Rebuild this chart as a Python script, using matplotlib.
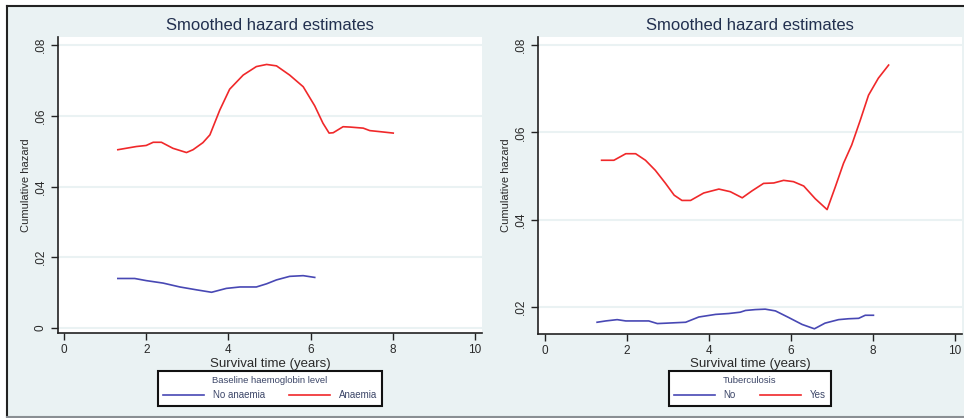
import matplotlib
matplotlib.use("Agg")
import matplotlib.pyplot as plt
from matplotlib.patches import Rectangle
from matplotlib.lines import Line2D
from matplotlib.ticker import FuncFormatter

plt.rcParams['font.family'] = ['Liberation Sans', 'DejaVu Sans']

# Left panel: baseline haemoglobin level
hb_none_x = [1.31, 1.72, 2.0, 2.41, 2.82, 3.22, 3.59, 3.95, 4.28, 4.68, 4.93, 5.17, 5.49, 5.82, 6.10]
hb_none_y = [0.0140, 0.0140, 0.0134, 0.0127, 0.0116, 0.0108, 0.0101, 0.0112, 0.0116, 0.0116,
             0.0125, 0.0136, 0.0146, 0.0148, 0.0143]
hb_anaemia_x = [1.31, 1.76, 2.0, 2.17, 2.37, 2.65, 2.98, 3.14, 3.38, 3.55, 3.79, 4.03, 4.36, 4.68,
                4.93, 5.17, 5.49, 5.82, 6.10, 6.30, 6.45, 6.55, 6.79, 6.96, 7.28, 7.44, 7.69, 8.01]
hb_anaemia_y = [0.0504, 0.0513, 0.0516, 0.0525, 0.0525, 0.0508, 0.0496, 0.0504, 0.0524, 0.0546,
                0.0616, 0.0675, 0.0715, 0.0739, 0.0745, 0.0741, 0.0715, 0.0682, 0.0628, 0.0579,
                0.0551, 0.0552, 0.0569, 0.0568, 0.0565, 0.0558, 0.0555, 0.0551]

# Right panel: tuberculosis
tb_no_x = [1.27, 1.48, 1.76, 1.97, 2.53, 2.74, 2.98, 3.43, 3.75, 4.16, 4.48, 4.76, 4.89, 5.13,
           5.37, 5.62, 5.94, 6.27, 6.57, 6.83, 7.16, 7.40, 7.65, 7.81, 8.01]
tb_no_y = [0.0165, 0.0168, 0.0171, 0.0168, 0.0168, 0.0162, 0.0163, 0.0165, 0.0177, 0.0183,
           0.0185, 0.0188, 0.0192, 0.0194, 0.0195, 0.0191, 0.0176, 0.0160, 0.0150, 0.0163,
           0.0171, 0.0173, 0.0174, 0.0181, 0.0181]
tb_yes_x = [1.38, 1.68, 1.97, 2.21, 2.45, 2.69, 2.94, 3.15, 3.34, 3.55, 3.87, 4.24, 4.52, 4.81,
            5.05, 5.33, 5.58, 5.82, 6.06, 6.31, 6.59, 6.88, 7.08, 7.28, 7.48, 7.69, 7.89, 8.13, 8.38]
tb_yes_y = [0.0536, 0.0536, 0.0551, 0.0551, 0.0536, 0.0513, 0.0483, 0.0456, 0.0444, 0.0444,
            0.0461, 0.0470, 0.0464, 0.0450, 0.0466, 0.0483, 0.0484, 0.0490, 0.0487, 0.0477,
            0.0448, 0.0423, 0.0475, 0.0529, 0.0571, 0.0628, 0.0685, 0.0724, 0.0754]

x_ticks = [0, 2, 4, 6, 8, 10]
left_yticks = [0, 0.02, 0.04, 0.06, 0.08]
right_yticks = [0.02, 0.04, 0.06, 0.08]

BG = '#eaf2f3'
BLUE = '#4848b4'
RED = '#f0282a'
TXT = '#2a2a2a'
NAVY = '#22304f'

W, H = 964, 418
fig = plt.figure(figsize=(W / 100, H / 100), dpi=100)
fig.patch.set_facecolor('white')


def fx(px):
    return px / W


def fy(py):
    return 1 - py / H


# outer panel background and frame
fig.add_artist(Rectangle((fx(7), fy(417)), fx(964) - fx(7), fy(6) - fy(417),
                         transform=fig.transFigure, facecolor=BG, edgecolor='none', zorder=0))
fig.add_artist(Line2D([fx(7), 1], [fy(6), fy(6)], transform=fig.transFigure, color='#222222', lw=1.5))
fig.add_artist(Line2D([fx(7), fx(7)], [fy(6), 0], transform=fig.transFigure, color='#222222', lw=1.5))
fig.add_artist(Line2D([fx(7), 1], [fy(417), fy(417)], transform=fig.transFigure, color='#8a8f93', lw=1.5))


def ytick_fmt(v, pos):
    if abs(v) < 1e-9:
        return '0'
    return ('%.2f' % v).lstrip('0')


def make_panel(left_px, top_px, bottom_px, xlim, ylim, yticks, series, leg_title, leg_labels):
    ax = fig.add_axes([fx(left_px), fy(bottom_px), 424 / W, (bottom_px - top_px) / H])
    ax.set_facecolor('white')
    for yt in yticks:
        ax.axhline(yt, color=BG, lw=1.5, zorder=1)
    lines = []
    for (xs, ys, c) in series:
        ln, = ax.plot(xs, ys, color=c, lw=1.2, zorder=3)
        lines.append(ln)
    ax.set_xlim(*xlim)
    ax.set_ylim(*ylim)
    ax.set_xticks(x_ticks)
    ax.set_yticks(yticks)
    ax.yaxis.set_major_formatter(FuncFormatter(ytick_fmt))
    for s in ['top', 'right']:
        ax.spines[s].set_visible(False)
    for s in ['left', 'bottom']:
        ax.spines[s].set_color('#222222')
        ax.spines[s].set_linewidth(1.2)
    ax.tick_params(direction='out', length=5, width=1, color='#222222',
                   labelsize=8.5, labelcolor=TXT, pad=3)
    ax.tick_params(axis='y', labelrotation=90)
    for lab in ax.get_yticklabels():
        lab.set_va('center')
    ax.set_xlabel('Survival time (years)', fontsize=9.5, color=TXT, labelpad=1)
    ax.set_ylabel('Cumulative hazard', fontsize=8, color=TXT, labelpad=3)
    cx = left_px + 212
    fig.text(fx(cx), fy(26), 'Smoothed hazard estimates', ha='center', va='center',
             fontsize=12, color=NAVY)
    leg = ax.legend(lines, leg_labels, title=leg_title, ncol=2, loc='upper center',
                    bbox_to_anchor=(fx(cx), fy(371)), bbox_transform=fig.transFigure,
                    borderaxespad=0, fontsize=7, title_fontsize=6.8, frameon=True,
                    fancybox=False, edgecolor='#111111', framealpha=1,
                    handlelength=4.2, handletextpad=0.9, columnspacing=2.5,
                    borderpad=0.55, labelspacing=0.5)
    leg.get_frame().set_linewidth(1.5)
    for t in leg.get_texts():
        t.set_color('#3c4668')
    leg.get_title().set_color('#3c4668')
    return ax


make_panel(58, 37, 333, (-0.146, 10.17), (-0.00141, 0.08226), left_yticks,
           [(hb_none_x, hb_none_y, BLUE), (hb_anaemia_x, hb_anaemia_y, RED)],
           'Baseline haemoglobin level', ['No anaemia', 'Anaemia'])
make_panel(538, 37, 334, (-0.171, 10.17), (0.01381, 0.08183), right_yticks,
           [(tb_no_x, tb_no_y, BLUE), (tb_yes_x, tb_yes_y, RED)],
           'Tuberculosis', ['No', 'Yes'])

fig.savefig('out.png', dpi=100, facecolor=fig.get_facecolor())
